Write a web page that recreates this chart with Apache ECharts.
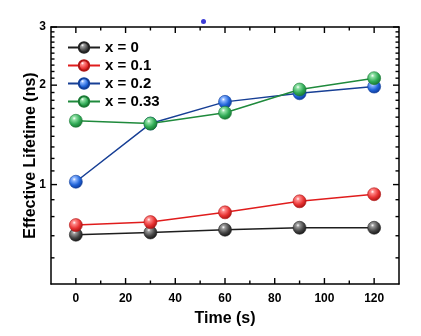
<!DOCTYPE html>
<html>
<head>
<meta charset="utf-8">
<script src="https://cdn.jsdelivr.net/npm/echarts@6/dist/echarts.min.js"></script>
<style>
  html, body { margin: 0; padding: 0; background: #fff; }
  #chart { width: 421px; height: 336px; }
</style>
</head>
<body>
<div id="chart"></div>
<script>
// Annealing time (s)
const times = [0, 30, 60, 90, 120];
// Effective lifetime (ns) per composition
const lifeX0   = [0.705, 0.716, 0.73, 0.74, 0.74];
const lifeX01  = [0.754, 0.77, 0.824, 0.89, 0.935];
const lifeX02  = [1.02, 1.53, 1.78, 1.89, 1.98];
const lifeX033 = [1.56, 1.53, 1.65, 1.94, 2.10];
const seriesNames = ['x = 0', 'x = 0.1', 'x = 0.2', 'x = 0.33'];

// Axis ranges, ticks and labels
const xRange = [-10, 130];
const yRange = [0.5, 3];
const xMajorTicks = [0, 20, 40, 60, 80, 100, 120];
const xMinorTicks = [10, 30, 50, 70, 90, 110];
const yMajorTicks = [1, 2, 3];
const yMinorTicks = [0.6, 0.7, 0.8, 0.9, 1.1, 1.2, 1.3, 1.4, 1.5, 1.6, 1.7, 1.8, 1.9,
                     2.1, 2.2, 2.3, 2.4, 2.5, 2.6, 2.7, 2.8, 2.9];

const FONT = 'Arial, "Liberation Sans", sans-serif';
const MAJOR_LEN = 6, MINOR_LEN = 3.5;

function sphere(light, mid, dark) {
  return {
    type: 'radial', x: 0.38, y: 0.32, r: 0.72,
    colorStops: [
      { offset: 0, color: '#ffffff' },
      { offset: 0.18, color: light },
      { offset: 0.6, color: mid },
      { offset: 1, color: dark }
    ]
  };
}

const styles = [
  { line: '#1e1e1e', fill: sphere('#9a9a9a', '#444', '#111'), edge: '#222' },
  { line: '#e01c1c', fill: sphere('#ff8a8a', '#e83232', '#a01010'), edge: '#b01515' },
  { line: '#173f95', fill: sphere('#8ab4ff', '#1f63d8', '#0d3590'), edge: '#123f9a' },
  { line: '#1f8a3c', fill: sphere('#8fe0a4', '#2faa55', '#17702e'), edge: '#1a7a34' }
];
const values = [lifeX0, lifeX01, lifeX02, lifeX033];

const series = values.map((vals, i) => ({
  name: seriesNames[i],
  type: 'line',
  data: times.map((t, k) => [t, vals[k]]),
  symbol: 'circle',
  symbolSize: 13,
  lineStyle: { color: styles[i].line, width: 1.5 },
  itemStyle: { color: styles[i].fill, borderColor: styles[i].edge, borderWidth: 0.6 },
  emphasis: { disabled: true },
  z: 3 + i
}));

const tickStyle = { stroke: '#000', lineWidth: 1.4 };

// Inward ticks on the bottom and top edges, placed through the x scale
const xTickVals = xMajorTicks.concat(xMinorTicks);
const xTickLens = xMajorTicks.map(() => MAJOR_LEN).concat(xMinorTicks.map(() => MINOR_LEN));
series.push({
  type: 'custom',
  silent: true,
  clip: false,
  z: 2,
  data: xTickVals.map(v => [v, yRange[0]]),
  renderItem(params, api) {
    const v = api.value(0), len = xTickLens[params.dataIndex];
    const b = api.coord([v, yRange[0]]);
    const t = api.coord([v, yRange[1]]);
    return {
      type: 'group',
      children: [
        { type: 'line', shape: { x1: b[0], y1: b[1], x2: b[0], y2: b[1] - len }, style: tickStyle },
        { type: 'line', shape: { x1: t[0], y1: t[1], x2: t[0], y2: t[1] + len }, style: tickStyle }
      ]
    };
  }
});

// Inward ticks on the left and right edges, placed through the log y scale
const yTickVals = yMajorTicks.concat(yMinorTicks);
const yTickLens = yMajorTicks.map(() => MAJOR_LEN).concat(yMinorTicks.map(() => MINOR_LEN));
series.push({
  type: 'custom',
  silent: true,
  clip: false,
  z: 2,
  data: yTickVals.map(v => [xRange[0], v]),
  renderItem(params, api) {
    const v = api.value(1), len = yTickLens[params.dataIndex];
    const l = api.coord([xRange[0], v]);
    const r = api.coord([xRange[1], v]);
    return {
      type: 'group',
      children: [
        { type: 'line', shape: { x1: l[0], y1: l[1], x2: l[0] + len, y2: l[1] }, style: tickStyle },
        { type: 'line', shape: { x1: r[0], y1: r[1], x2: r[0] - len, y2: r[1] }, style: tickStyle }
      ]
    };
  }
});

const frameLine = { show: true, onZero: false, lineStyle: { color: '#000', width: 1.5 } };

const chart = echarts.init(document.getElementById('chart'), null, { renderer: 'canvas' });
chart.setOption({
  animation: false,
  backgroundColor: '#fff',
  grid: { left: 51, right: 22, top: 27, bottom: 52, show: false },
  legend: {
    data: seriesNames,
    orient: 'vertical',
    left: 62, top: 35,
    itemWidth: 32, itemHeight: 13, itemGap: 3,
    textStyle: { fontFamily: FONT, fontWeight: 'bold', fontSize: 15, color: '#000' }
  },
  xAxis: [
    {
      type: 'value', min: xRange[0], max: xRange[1], position: 'bottom',
      splitLine: { show: false },
      name: 'Time (s)', nameLocation: 'middle', nameGap: 27, nameMoveOverlap: false,
      nameTextStyle: { fontFamily: FONT, fontWeight: 'bold', fontSize: 16, color: '#000' },
      axisLine: frameLine,
      axisTick: { show: false },
      axisLabel: { show: true, customValues: xMajorTicks, margin: 9, fontFamily: FONT, fontWeight: 'bold', fontSize: 12, color: '#000' }
    },
    {
      type: 'value', min: xRange[0], max: xRange[1], position: 'top',
      splitLine: { show: false }, axisLine: frameLine, axisTick: { show: false }, axisLabel: { show: false }
    }
  ],
  yAxis: [
    {
      type: 'log', logBase: 10, min: yRange[0], max: yRange[1], position: 'left',
      splitLine: { show: false },
      name: 'Effective Lifetime (ns)', nameLocation: 'middle', nameGap: 12, nameRotate: 90, nameMoveOverlap: false,
      nameTextStyle: { fontFamily: FONT, fontWeight: 'bold', fontSize: 16, color: '#000' },
      axisLine: frameLine,
      axisTick: { show: false },
      axisLabel: { show: true, customValues: yMajorTicks, margin: 5, fontFamily: FONT, fontWeight: 'bold', fontSize: 12, color: '#000' }
    },
    {
      type: 'log', logBase: 10, min: yRange[0], max: yRange[1], position: 'right',
      splitLine: { show: false }, axisLine: frameLine, axisTick: { show: false }, axisLabel: { show: false }
    }
  ],
  graphic: [
    { type: 'circle', left: 201, top: 19, shape: { r: 2.5 }, style: { fill: '#3b3bd6' }, silent: true }
  ],
  series: series
});
</script>
</body>
</html>
